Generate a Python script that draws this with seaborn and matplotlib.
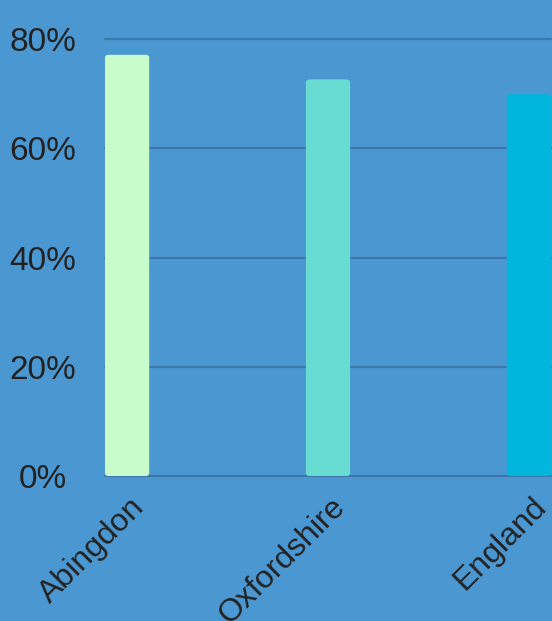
import matplotlib
matplotlib.use('Agg')
import matplotlib.pyplot as plt
import matplotlib.transforms as mtransforms
import seaborn as sns
import pandas as pd
from matplotlib.ticker import FuncFormatter
from matplotlib.patches import FancyBboxPatch

# Dados
areas = ['Abingdon', 'Oxfordshire', 'England']
percentuais = [77.1, 72.6, 69.9]
cores = ['#c8fdcb', '#68dcd3', '#00b6dc']

fundo = '#4b97d1'
grade = '#3d77a8'
texto = '#222222'

df = pd.DataFrame({'Area': areas, 'Pct': percentuais})

sns.set_theme(style='white')
plt.rcParams['font.family'] = ['Liberation Sans', 'DejaVu Sans']

fig = plt.figure(figsize=(5.52, 6.21), dpi=100, facecolor=fundo)
ax = fig.add_axes([105 / 552, (621 - 476) / 621, 446 / 552, (476 - 39) / 621])
ax.set_facecolor(fundo)

sns.barplot(data=df, x='Area', y='Pct', hue='Area', palette=cores,
            saturation=1, width=0.22, linewidth=0, legend=False, ax=ax, zorder=3)

ax.set_xlim(-0.11, 2.11)
ax.set_ylim(0, 80)

# cantos levemente arredondados
px_x = 446 / 2.22
px_y = 437 / 80
for p in list(ax.patches):
    x, y = p.get_xy()
    nova = FancyBboxPatch((x, y), p.get_width(), p.get_height(),
                          boxstyle=f'round,pad=0,rounding_size={3 / px_x}',
                          mutation_aspect=px_x / px_y,
                          facecolor=p.get_facecolor(), edgecolor='none', zorder=3)
    p.remove()
    ax.add_patch(nova)

ax.set_yticks([0, 20, 40, 60, 80])
ax.yaxis.set_major_formatter(FuncFormatter(lambda v, p: f'{v:.0f}%'))
ax.grid(axis='y', color=grade, linewidth=1.5, zorder=0)
ax.grid(axis='x', visible=False)
for gl in ax.get_ygridlines():
    gl.set_clip_on(False)
for s in ax.spines.values():
    s.set_visible(False)

ax.set_xlabel('')
ax.set_ylabel('')
ax.tick_params(axis='both', length=0, labelcolor=texto)
ax.tick_params(axis='y', pad=45, labelsize=24)
ax.tick_params(axis='x', pad=8, labelsize=23)
for lbl in ax.get_yticklabels():
    lbl.set_horizontalalignment('center')
desloc = mtransforms.ScaledTranslation(2 / 100, -5 / 100, fig.dpi_scale_trans)
for lbl in ax.get_xticklabels():
    lbl.set_rotation(45)
    lbl.set_horizontalalignment('right')
    lbl.set_verticalalignment('top')
    lbl.set_rotation_mode('anchor')
    lbl.set_transform(lbl.get_transform() + desloc)

fig.savefig('out.png', dpi=100, facecolor=fundo)
